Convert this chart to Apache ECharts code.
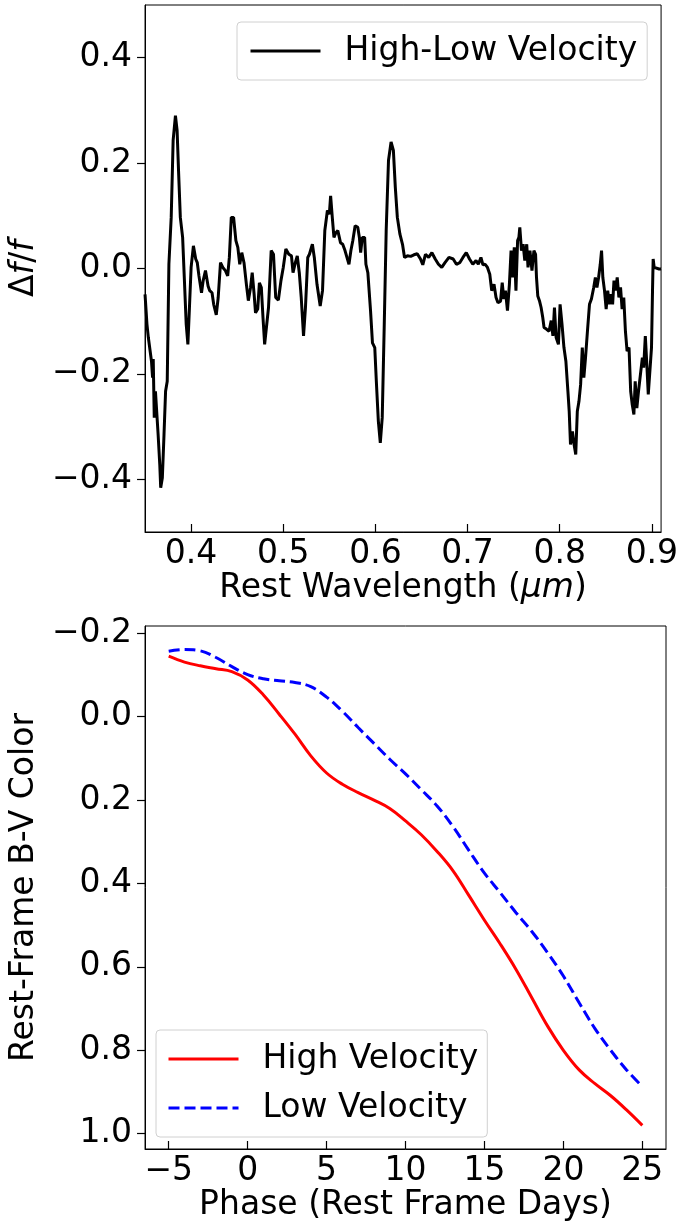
<!DOCTYPE html>
<html><head><meta charset="utf-8">
<script src="https://cdn.jsdelivr.net/npm/echarts@6/dist/echarts.min.js"></script>
<style>html,body{margin:0;padding:0;background:#fff}#c{width:681px;height:1223px}</style>
</head><body><div id="c"></div>
<script>
const wavelength=[0.3500,0.3521,0.3536,0.3557,0.3570,0.3582,0.3589,0.3600,0.3613,0.3628,0.3642,0.3660,0.3670,0.3688,0.3706,0.3723,0.3741,0.3759,0.3784,0.3805,0.3830,0.3848,0.3865,0.3883,0.3908,0.3926,0.3947,0.3965,0.3982,0.4000,0.4025,0.4050,0.4067,0.4085,0.4113,0.4131,0.4156,0.4184,0.4202,0.4227,0.4245,0.4273,0.4294,0.4319,0.4344,0.4372,0.4397,0.4415,0.4436,0.4461,0.4486,0.4507,0.4528,0.4550,0.4574,0.4600,0.4621,0.4645,0.4663,0.4684,0.4699,0.4723,0.4741,0.4762,0.4780,0.4798,0.4816,0.4840,0.4869,0.4894,0.4918,0.4947,0.4975,0.5000,0.5028,0.5060,0.5089,0.5106,0.5131,0.5152,0.5174,0.5195,0.5220,0.5241,0.5266,0.5284,0.5316,0.5337,0.5366,0.5401,0.5426,0.5451,0.5479,0.5500,0.5514,0.5532,0.5550,0.5571,0.5592,0.5621,0.5645,0.5670,0.5691,0.5713,0.5734,0.5755,0.5780,0.5809,0.5826,0.5840,0.5858,0.5883,0.5897,0.5918,0.5947,0.5968,0.5993,0.6010,0.6032,0.6053,0.6074,0.6096,0.6117,0.6142,0.6170,0.6195,0.6216,0.6238,0.6266,0.6294,0.6316,0.6348,0.6383,0.6418,0.6454,0.6489,0.6514,0.6543,0.6578,0.6613,0.6649,0.6684,0.6720,0.6755,0.6798,0.6844,0.6879,0.6915,0.6950,0.6986,0.7021,0.7057,0.7092,0.7117,0.7145,0.7167,0.7191,0.7216,0.7241,0.7262,0.7287,0.7309,0.7330,0.7358,0.7376,0.7394,0.7411,0.7433,0.7454,0.7472,0.7489,0.7507,0.7525,0.7543,0.7557,0.7567,0.7585,0.7603,0.7621,0.7642,0.7656,0.7677,0.7699,0.7720,0.7738,0.7748,0.7762,0.7780,0.7798,0.7816,0.7830,0.7855,0.7884,0.7908,0.7926,0.7943,0.7961,0.7986,0.8004,0.8025,0.8046,0.8067,0.8089,0.8103,0.8117,0.8138,0.8156,0.8174,0.8191,0.8209,0.8227,0.8245,0.8262,0.8280,0.8301,0.8323,0.8344,0.8369,0.8387,0.8404,0.8422,0.8440,0.8454,0.8468,0.8486,0.8504,0.8521,0.8539,0.8557,0.8574,0.8589,0.8606,0.8624,0.8642,0.8660,0.8677,0.8695,0.8713,0.8731,0.8752,0.8770,0.8787,0.8805,0.8819,0.8837,0.8855,0.8876,0.8897,0.8911,0.8929,0.8947,0.8961,0.8982,0.8996,0.9007,0.9014,0.9025,0.9043,0.9078,0.9100];
const deltaF=[-0.049,-0.106,-0.131,-0.134,-0.176,-0.207,-0.172,-0.283,-0.233,-0.233,-0.315,-0.372,-0.416,-0.397,-0.315,-0.233,-0.214,0.008,0.097,0.243,0.290,0.262,0.179,0.097,0.059,-0.017,-0.106,-0.144,-0.074,0.002,0.043,0.018,0.011,-0.014,-0.046,-0.023,-0.004,-0.033,-0.042,-0.046,-0.068,-0.088,-0.055,0.011,0.002,-0.004,-0.014,0.021,0.097,0.097,0.053,0.040,0.008,0.030,0.011,-0.030,-0.061,-0.036,-0.008,-0.049,-0.084,-0.077,-0.027,-0.036,-0.093,-0.144,-0.144,-0.074,0.034,0.027,-0.055,-0.060,-0.023,0.002,0.037,0.027,0.024,-0.008,0.011,0.024,-0.008,-0.055,-0.128,-0.074,0.021,0.027,0.046,0.021,-0.030,-0.071,-0.042,0.072,0.110,0.103,0.138,0.097,0.059,0.068,0.072,0.049,0.046,0.034,0.021,0.008,0.034,0.053,0.081,0.078,0.059,0.030,0.059,0.059,0.008,-0.008,-0.080,-0.141,-0.150,-0.214,-0.290,-0.331,-0.283,-0.106,0.072,0.205,0.240,0.224,0.154,0.097,0.065,0.046,0.021,0.024,0.023,0.026,0.028,0.018,0.007,0.027,0.021,0.030,0.018,0.008,0.002,0.011,0.021,0.018,0.008,0.011,0.021,0.030,0.018,0.008,0.015,0.008,0.021,0.007,0.008,0.002,-0.011,-0.042,-0.030,-0.055,-0.065,-0.062,-0.027,-0.058,-0.042,-0.080,-0.030,0.034,-0.017,0.040,-0.042,0.053,0.059,0.078,0.034,0.046,0.015,0.046,0.002,0.034,-0.004,0.034,0.027,-0.017,-0.052,-0.061,-0.074,-0.093,-0.112,-0.115,-0.119,-0.099,-0.128,-0.074,-0.131,-0.144,-0.068,-0.106,-0.150,-0.176,-0.233,-0.271,-0.334,-0.309,-0.334,-0.353,-0.271,-0.252,-0.220,-0.150,-0.207,-0.169,-0.119,-0.068,-0.058,-0.036,-0.017,-0.036,-0.017,0.008,0.034,-0.017,-0.042,-0.077,-0.042,-0.068,-0.049,-0.068,-0.023,-0.042,-0.017,-0.055,-0.036,-0.077,-0.055,-0.119,-0.157,-0.150,-0.233,-0.258,-0.277,-0.214,-0.265,-0.233,-0.201,-0.169,-0.188,-0.128,-0.188,-0.239,-0.239,-0.150,-0.042,0.018,0.002,-0.001,-0.001,-0.001];
const phase=[-5,-4,-3,-2,-1,0,1,2,3,4,5,6,7,8,9,10,11,12,13,14,15,16,17,18,19,20,21,22,23,24,25];
const highVelocity=[-0.145,-0.131,-0.122,-0.115,-0.108,-0.088,-0.052,-0.006,0.042,0.094,0.135,0.162,0.182,0.200,0.220,0.250,0.283,0.323,0.369,0.428,0.488,0.545,0.606,0.674,0.742,0.800,0.847,0.880,0.909,0.943,0.980];
const lowVelocity=[-0.157,-0.161,-0.158,-0.142,-0.120,-0.101,-0.091,-0.086,-0.082,-0.072,-0.047,-0.013,0.026,0.064,0.102,0.137,0.175,0.214,0.263,0.320,0.375,0.422,0.470,0.515,0.566,0.622,0.686,0.748,0.800,0.847,0.887];
const spectrumXTicks=[0.4,0.5,0.6,0.7,0.8,0.9];
const spectrumYTicks=[-0.4,-0.2,0,0.2,0.4];
const phaseTicks=[-5,0,5,10,15,20,25];
const colorTicks=[-0.2,0,0.2,0.4,0.6,0.8,1.0];

const FONT='DejaVu Sans';
const FS=33;
const minus=s=>String(s).replace('-','\u2212');
const fmt1=v=>minus((Math.round(v*10)/10).toFixed(1));
const fmt0=v=>minus(Math.round(v).toString());
const txt={color:'#000',fontFamily:FONT,fontSize:FS};
const rich={i:{fontStyle:'italic',fontFamily:FONT,fontSize:FS,color:'#000'},n:{fontFamily:FONT,fontSize:FS,color:'#000'}};

function xAx(grid,min,max,ticks,fmt,name){
  return {type:'value',gridIndex:grid,min:min,max:max,
    axisLine:{show:true,onZero:false,lineStyle:{color:'#000',width:1}},
    axisTick:{show:true,inside:true,length:8,customValues:ticks,lineStyle:{color:'#000',width:1.2}},
    axisLabel:{customValues:ticks,formatter:fmt,margin:6,...txt},
    splitLine:{show:false},
    name:name,nameLocation:'middle',nameGap:40,nameTextStyle:{...txt,rich:rich}};
}
function yAx(grid,min,max,ticks,fmt,name,inv,gap){
  return {type:'value',gridIndex:grid,min:min,max:max,inverse:inv,
    axisLine:{show:true,onZero:false,lineStyle:{color:'#000',width:1}},
    axisTick:{show:true,inside:false,length:8,customValues:ticks,lineStyle:{color:'#000',width:1.2}},
    axisLabel:{customValues:ticks,formatter:fmt,margin:13,...txt},
    splitLine:{show:false},
    name:name,nameLocation:'middle',nameRotate:90,nameGap:gap,nameTextStyle:{...txt,rich:rich}};
}

const legendBase={orient:'vertical',itemWidth:70,itemHeight:14,
  borderColor:'#d0d0d0',borderWidth:1,borderRadius:4,backgroundColor:'rgba(255,255,255,0.8)',
  itemStyle:{opacity:0},
  lineStyle:{width:3},
  textStyle:{...txt,lineHeight:40,padding:[0,0,0,19]}};

const chart=echarts.init(document.getElementById('c'),null,{renderer:'canvas'});
chart.setOption({
  backgroundColor:'#fff',
  animation:false,
  grid:[
    {left:139,top:5,width:527,height:527,show:true,borderColor:'#000',borderWidth:1,containLabel:false},
    {left:139,top:626,width:527,height:527,show:true,borderColor:'#000',borderWidth:1,containLabel:false}
  ],
  xAxis:[
    xAx(0,0.35,0.91,spectrumXTicks,fmt1,'Rest Wavelength ({i|\u03bcm})'),
    xAx(1,-6.5,26.5,phaseTicks,fmt0,'Phase (Rest Frame Days)')
  ],
  yAxis:[
    yAx(0,-0.5,0.5,spectrumYTicks,fmt1,'\u0394{i|f}/{i|f}',false,89),
    yAx(1,-0.2175,1.0367,colorTicks,fmt1,'Rest-Frame B-V Color',true,89)
  ],
  legend:[
    {...legendBase,data:['High-Low Velocity'],left:237,top:22,padding:[9,10,9,12]},
    {...legendBase,data:['High Velocity','Low Velocity'],left:156,top:1030,itemGap:9,padding:[9,9,9,11]}
  ],
  series:[
    {name:'High-Low Velocity',type:'line',xAxisIndex:0,yAxisIndex:0,showSymbol:false,symbol:'none',
     data:wavelength.map((w,i)=>[w,deltaF[i]]),lineStyle:{color:'#000',width:3},itemStyle:{color:'#000'}},
    {name:'High Velocity',type:'line',xAxisIndex:1,yAxisIndex:1,showSymbol:false,symbol:'none',smooth:0.4,
     data:phase.map((p,i)=>[p,highVelocity[i]]),lineStyle:{color:'#ff0000',width:3},itemStyle:{color:'#ff0000'}},
    {name:'Low Velocity',type:'line',xAxisIndex:1,yAxisIndex:1,showSymbol:false,symbol:'none',smooth:0.4,
     data:phase.map((p,i)=>[p,lowVelocity[i]]),lineStyle:{color:'#0000ff',width:3,type:[11,5]},itemStyle:{color:'#0000ff'}}
  ]
});
</script></body></html>
